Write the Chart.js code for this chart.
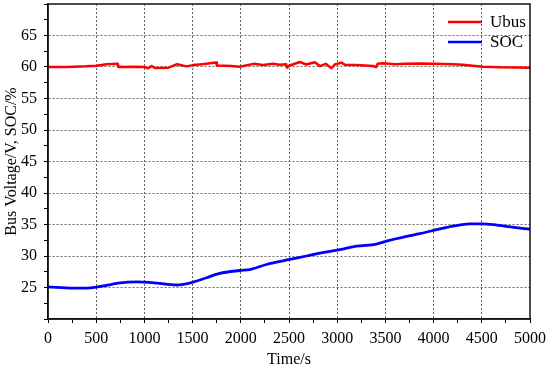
<!DOCTYPE html>
<html>
<head>
<meta charset="utf-8">
<script src="https://cdn.jsdelivr.net/npm/chart.js@4/dist/chart.umd.min.js"></script>
<style>
  html, body { margin: 0; padding: 0; background: #fff; }
  #wrap { width: 550px; height: 371px; }
</style>
</head>
<body>
<div id="wrap"><canvas id="myChart" width="550" height="371"></canvas></div>
<script>
// bus voltage (red)
const ubusTime = [0, 200, 400, 503, 607, 725, 730, 900, 1000, 1040, 1075, 1110, 1250, 1340, 1436, 1505, 1600, 1745, 1752, 1900, 1990, 2130, 2230, 2335, 2400, 2470, 2480, 2500, 2612, 2680, 2768, 2820, 2880, 2941, 2975, 3045, 3080, 3200, 3370, 3405, 3420, 3480, 3600, 3700, 3857, 4000, 4200, 4303, 4511, 4700, 5000];
const ubusVals = [60.0, 60.0, 60.1, 60.2, 60.45, 60.5, 60.0, 60.05, 60.0, 59.8, 60.15, 59.85, 59.9, 60.45, 60.1, 60.3, 60.45, 60.7, 60.25, 60.15, 60.05, 60.5, 60.3, 60.5, 60.35, 60.45, 59.9, 60.2, 60.8, 60.4, 60.75, 60.15, 60.5, 59.8, 60.4, 60.7, 60.35, 60.3, 60.15, 60.0, 60.5, 60.6, 60.45, 60.5, 60.55, 60.5, 60.45, 60.35, 60.05, 59.95, 59.9];

// state of charge (blue)
const socTime = [0, 261, 400, 503, 607, 728, 918, 1005, 1126, 1333, 1505, 1644, 1782, 1990, 2093, 2266, 2508, 2681, 2819, 3027, 3200, 3407, 3511, 3718, 3857, 4064, 4202, 4375, 4511, 4753, 5000];
const socVals = [25.1, 24.9, 24.9, 25.05, 25.35, 25.7, 25.9, 25.85, 25.7, 25.4, 25.85, 26.55, 27.25, 27.7, 27.85, 28.65, 29.45, 30.0, 30.45, 31.0, 31.55, 31.9, 32.35, 33.1, 33.55, 34.3, 34.75, 35.1, 35.1, 34.7, 34.25];

const seriesNames = ["Ubus", "SOC"];
const seriesColors = ["#ff0000", "#0000ff"];

const xMajorTicks = [0, 500, 1000, 1500, 2000, 2500, 3000, 3500, 4000, 4500, 5000];
const yMajorTicks = [25, 30, 35, 40, 45, 50, 55, 60, 65];

const serif = "'Liberation Serif', 'Times New Roman', serif";

function toPoints(xs, ys) {
  return xs.map((x, i) => ({ x: x, y: ys[i] }));
}

// frame + legend drawn on top
const framePlugin = {
  id: 'frame',
  afterDraw(chart) {
    const c = chart.ctx;
    const a = chart.chartArea;
    c.save();
    c.strokeStyle = '#111';
    c.lineWidth = 1.5;
    c.strokeRect(a.left, a.top, a.right - a.left, a.bottom - a.top);

    // legend top-right inside the plot
    c.font = '17px ' + serif;
    c.textBaseline = 'middle';
    c.fillStyle = '#000';
    seriesNames.forEach((name, i) => {
      const y = 22 + i * 20;
      c.strokeStyle = seriesColors[i];
      c.lineWidth = 2.5;
      c.beginPath();
      c.moveTo(448, y);
      c.lineTo(482, y);
      c.stroke();
      c.fillText(name, 490, y + 1);
    });
    c.restore();
  }
};

let ctx = document.getElementById('myChart').getContext('2d');
let myChart = new Chart(ctx, {
  type: 'line',
  data: {
    datasets: [{
      label: seriesNames[0],
      data: toPoints(ubusTime, ubusVals),
      borderColor: seriesColors[0],
      borderWidth: 2.5,
      borderJoinStyle: 'round',
      borderCapStyle: 'round',
      pointRadius: 0,
      tension: 0
    }, {
      label: seriesNames[1],
      data: toPoints(socTime, socVals),
      borderColor: seriesColors[1],
      borderWidth: 2.8,
      borderJoinStyle: 'round',
      borderCapStyle: 'round',
      pointRadius: 0,
      cubicInterpolationMode: 'monotone'
    }]
  },
  options: {
    responsive: false,
    animation: false,
    layout: { padding: { left: 0, right: 20, top: 4, bottom: 0 } },
    plugins: {
      legend: { display: false },
      tooltip: { enabled: false }
    },
    scales: {
      x: {
        type: 'linear',
        min: 0,
        max: 5000,
        afterFit: (s) => { s.height = 52; s.paddingLeft = 0; s.paddingRight = 0; },
        ticks: {
          stepSize: 250,
          autoSkip: false,
          maxRotation: 0,
          padding: 6,
          color: '#000',
          font: { family: serif, size: 16 },
          callback: (v) => xMajorTicks.includes(v) ? String(v) : ''
        },
        grid: {
          color: (ctx) => {
            const v = ctx.tick ? ctx.tick.value : null;
            return (v !== null && v % 500 === 0 && v > 0 && v < 5000) ? '#666' : 'rgba(0,0,0,0)';
          },
          tickColor: '#000',
          tickLength: 4,
          lineWidth: 1
        },
        border: { display: true, color: '#111', width: 1.5, dash: [2, 2] },
        title: {
          display: true,
          text: 'Time/s',
          color: '#000',
          font: { family: serif, size: 16 },
          padding: { top: 0, bottom: 2 }
        }
      },
      y: {
        min: 20,
        max: 70,
        afterFit: (s) => { s.width = 48; s.paddingTop = 0; s.paddingBottom = 0; },
        ticks: {
          stepSize: 2.5,
          autoSkip: false,
          padding: 7,
          color: '#000',
          font: { family: serif, size: 16 },
          callback: (v) => yMajorTicks.includes(v) ? String(v) : ''
        },
        grid: {
          color: (ctx) => {
            const v = ctx.tick ? ctx.tick.value : null;
            return (v !== null && yMajorTicks.includes(v)) ? '#666' : 'rgba(0,0,0,0)';
          },
          tickColor: '#000',
          tickLength: 4,
          lineWidth: 1
        },
        border: { display: true, color: '#111', width: 1.5, dash: [2, 2] },
        title: {
          display: true,
          text: 'Bus Voltage/V, SOC/%',
          color: '#000',
          font: { family: serif, size: 16 },
          padding: { top: 2, bottom: 0 }
        }
      }
    }
  },
  plugins: [framePlugin]
});
</script>
</body>
</html>
